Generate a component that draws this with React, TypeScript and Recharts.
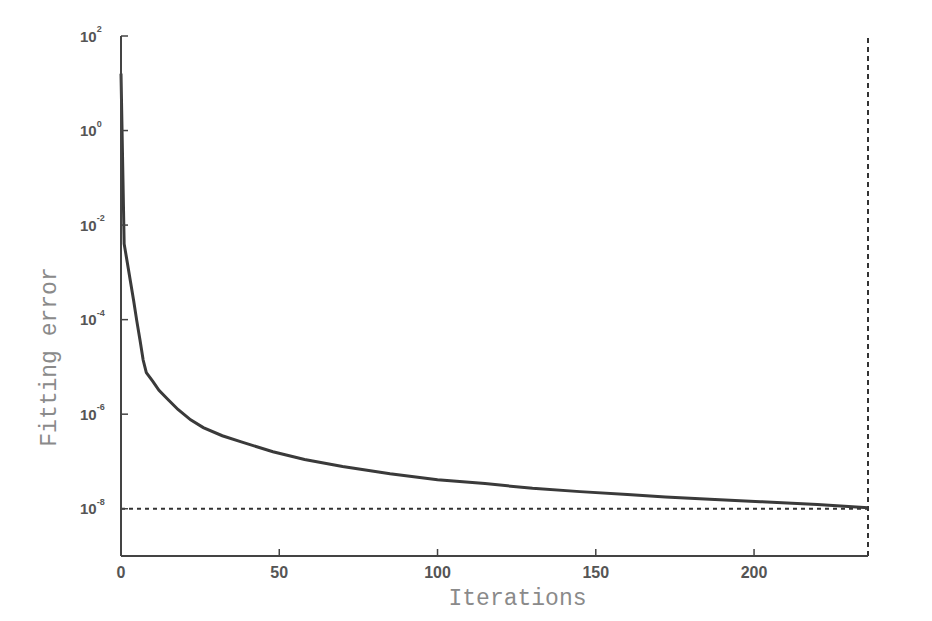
import { Label, Line, LineChart, ReferenceLine, XAxis, YAxis } from "recharts";

// iteration numbers and fitting error
const iterations = [
  0, 1, 2, 3, 4, 5, 6, 7, 8, 10, 12, 15, 18, 22, 26, 32, 38, 48, 58, 70, 85,
  100, 115, 130, 145, 160, 172, 186, 202, 220, 236,
];
const errors = [
  16, 4e-3, 1.6e-3, 6.3e-4, 2.5e-4, 9.3e-5, 3.7e-5, 1.4e-5, 7.6e-6, 5e-6,
  3.2e-6, 2e-6, 1.26e-6, 7.6e-7, 5.2e-7, 3.5e-7, 2.6e-7, 1.6e-7, 1.1e-7,
  7.8e-8, 5.5e-8, 4.1e-8, 3.4e-8, 2.7e-8, 2.3e-8, 2.0e-8, 1.78e-8, 1.58e-8,
  1.41e-8, 1.23e-8, 1.05e-8,
];
const xTicks = [0, 50, 100, 150, 200];
const yTickExponents = [2, 0, -2, -4, -6, -8];
const tolerance = 1e-8;
const lastIteration = 236;

const data = iterations.map((it, i) => ({ it, err: errors[i] }));

const tickFont = "'Liberation Sans', Arial, sans-serif";
const titleFont = "'Liberation Mono', 'Courier New', monospace";

const XTick = (props: any) => {
  const { x, y, payload } = props;
  return (
    <g>
      <line x1={x} y1={y} x2={x} y2={y - 7} stroke="#444" strokeWidth={1.5} />
      <text
        x={x}
        y={y + 16}
        textAnchor="middle"
        dominantBaseline="central"
        fontFamily={tickFont}
        fontSize={16}
        fontWeight="bold"
        fill="#555"
      >
        {payload.value}
      </text>
    </g>
  );
};

const YTick = (props: any) => {
  const { x, y, payload } = props;
  const exp = Math.round(Math.log10(payload.value));
  return (
    <g>
      <line x1={x} y1={y} x2={x + 7} y2={y} stroke="#444" strokeWidth={1.5} />
      <text
        x={x - 41}
        y={y}
        dominantBaseline="central"
        fontFamily={tickFont}
        fontSize={15}
        fontWeight="bold"
        fill="#555"
      >
        10
        <tspan dy={-7} fontSize={9}>
          {exp}
        </tspan>
      </text>
    </g>
  );
};

export default function App() {
  return (
    <div
      style={{
        position: "absolute",
        left: 0,
        top: 0,
        width: 932,
        height: 621,
        background: "#fff",
      }}
    >
      <LineChart
        width={932}
        height={621}
        data={data}
        margin={{ top: 36, right: 64, bottom: 20, left: 41 }}
      >
        <XAxis
          dataKey="it"
          type="number"
          domain={[0, lastIteration]}
          ticks={xTicks}
          height={45}
          tickSize={0}
          tickMargin={0}
          tickLine={false}
          tick={XTick}
          axisLine={{ stroke: "#444", strokeWidth: 2 }}
        >
          <Label
            content={(p: any) => {
              const vb = p.viewBox;
              return (
                <text
                  x={vb.x + vb.width / 2 + 23}
                  y={vb.y + 49}
                  textAnchor="middle"
                  fontFamily={titleFont}
                  fontSize={23}
                  fill="#8a8a8a"
                >
                  Iterations
                </text>
              );
            }}
          />
        </XAxis>
        <YAxis
          type="number"
          scale="log"
          domain={[1e-9, 100]}
          allowDataOverflow
          ticks={yTickExponents.map((e) => Math.pow(10, e))}
          width={80}
          tickSize={0}
          tickMargin={0}
          tickLine={false}
          tick={YTick}
          axisLine={{ stroke: "#444", strokeWidth: 2 }}
        >
          <Label
            content={(p: any) => {
              const vb = p.viewBox;
              const cx = vb.x + 9;
              const cy = vb.y + vb.height / 2 + 61;
              return (
                <text
                  x={cx}
                  y={cy}
                  textAnchor="middle"
                  dominantBaseline="central"
                  transform={`rotate(-90 ${cx} ${cy})`}
                  fontFamily={titleFont}
                  fontSize={23}
                  fill="#8a8a8a"
                >
                  Fitting error
                </text>
              );
            }}
          />
        </YAxis>
        <ReferenceLine
          y={tolerance}
          stroke="#333"
          strokeWidth={2}
          strokeDasharray="4 4"
        />
        <ReferenceLine
          x={lastIteration}
          stroke="#333"
          strokeWidth={2}
          strokeDasharray="5 4"
        />
        <Line
          type="linear"
          dataKey="err"
          stroke="#3a3a3a"
          strokeWidth={3}
          dot={false}
          isAnimationActive={false}
        />
      </LineChart>
    </div>
  );
}
